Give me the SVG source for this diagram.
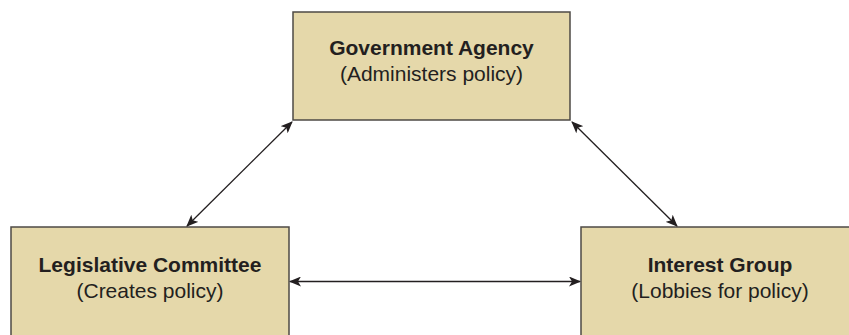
<svg xmlns="http://www.w3.org/2000/svg" width="849" height="335" viewBox="0 0 849 335">
<style>
.box{fill:#e5d8aa;stroke:#4d4a45;stroke-width:1.5}
.t1{font-family:"Liberation Sans",Arial,sans-serif;font-weight:bold;font-size:21px;fill:#231f20;text-anchor:middle}
.t2{font-family:"Liberation Sans",Arial,sans-serif;font-size:21px;fill:#231f20;text-anchor:middle}
.con{stroke:#231f20;stroke-width:1.3;fill:none;marker-start:url(#ah);marker-end:url(#ah)}
</style>
<defs>
<marker id="ah" viewBox="0 0 12 10" refX="11" refY="5" markerWidth="12" markerHeight="10" markerUnits="userSpaceOnUse" orient="auto-start-reverse">
<path d="M0,0 L12,5 L0,10 L3,5 z" fill="#231f20"/>
</marker>
</defs>
<g id="agency">
<rect class="box" x="293" y="12" width="277" height="108"/>
<text class="t1" x="431.5" y="55">Government Agency</text>
<text class="t2" x="431.5" y="81">(Administers policy)</text>
</g>
<g id="committee">
<rect class="box" x="11" y="227" width="278" height="120"/>
<text class="t1" x="150" y="272">Legislative Committee</text>
<text class="t2" x="150" y="298">(Creates policy)</text>
</g>
<g id="interest">
<rect class="box" x="581" y="227" width="278" height="120"/>
<text class="t1" x="720" y="272">Interest Group</text>
<text class="t2" x="720" y="298">(Lobbies for policy)</text>
</g>
<g id="connectors">
<line class="con" x1="187" y1="226" x2="292" y2="122"/>
<line class="con" x1="572" y1="122" x2="677" y2="226"/>
<line class="con" x1="290" y1="281.5" x2="580" y2="281.5"/>
</g>
</svg>
